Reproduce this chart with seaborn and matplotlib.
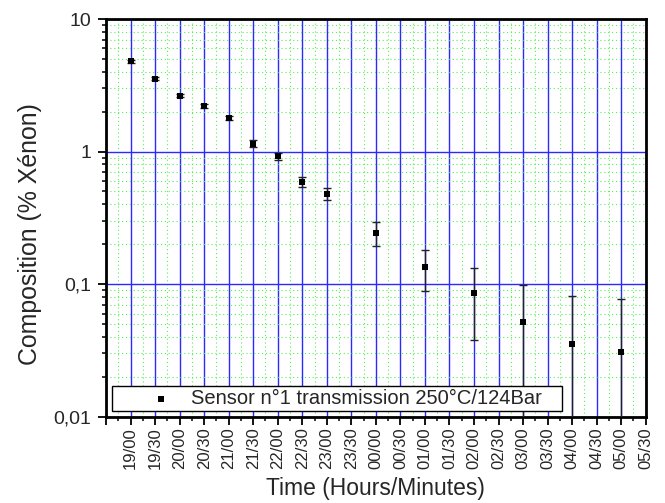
import numpy as np
import pandas as pd
import matplotlib
matplotlib.use("Agg")
import matplotlib.pyplot as plt
import seaborn as sns
from matplotlib.ticker import FixedLocator, FixedFormatter, NullFormatter

# ---- data ----
times = ["19/00", "19/30", "20/00", "20/30", "21/00", "21/30", "22/00", "22/30",
         "23/00", "00/00", "01/00", "02/00", "03/00", "04/00", "05/00"]
composition = [4.8, 3.55, 2.64, 2.21, 1.78, 1.15, 0.92, 0.59,
               0.48, 0.245, 0.135, 0.085, 0.052, 0.0355, 0.031]
error = [0.12, 0.09, 0.08, 0.07, 0.06, 0.07, 0.06, 0.05,
         0.05, 0.05, 0.047, 0.047, 0.046, 0.046, 0.046]
tick_labels = ["18/30", "19/00", "19/30", "20/00", "20/30", "21/00", "21/30", "22/00",
               "22/30", "23/00", "23/30", "00/00", "00/30", "01/00", "01/30", "02/00",
               "02/30", "03/00", "03/30", "04/00", "04/30", "05/00", "05/30"]
y_ticks = [0.01, 0.1, 1, 10]
y_tick_labels = ["0,01", "0,1", "1", "10"]
series_label = "Sensor n°1 transmission 250°C/124Bar"


def to_hours(s):
    h, m = s.split("/")
    return ((int(h) - 18) % 24) - 1 + int(m) / 60.0


df = pd.DataFrame({"t": [to_hours(s) for s in times],
                   "comp": composition, "err": error})
tick_pos = [to_hours(s) for s in tick_labels]

sns.set_style("white")
plt.rcParams['font.family'] = ['Liberation Sans', 'DejaVu Sans']

fig = plt.figure(figsize=(6.65, 5.03), dpi=100)
ax = fig.add_axes([0.1594, 0.1716, 0.9710 - 0.1594, 0.9622 - 0.1716])

ax.set_yscale("log")
ax.set_ylim(0.01, 10)
ax.set_xlim(tick_pos[0], tick_pos[-1])

# ticks & grid
minor_x = [p + 0.25 for p in tick_pos[:-1]]
ax.xaxis.set_major_locator(FixedLocator(tick_pos))
ax.xaxis.set_major_formatter(FixedFormatter(["" if s == "18/30" else s for s in tick_labels]))
ax.xaxis.set_minor_locator(FixedLocator(minor_x))
ax.yaxis.set_major_locator(FixedLocator(y_ticks))
ax.yaxis.set_major_formatter(FixedFormatter(y_tick_labels))
ax.yaxis.set_minor_locator(matplotlib.ticker.LogLocator(base=10, subs=np.arange(2, 10), numticks=20))
ax.yaxis.set_minor_formatter(NullFormatter())

ax.grid(which="minor", color="#55ee55", linestyle=(0, (1, 2.5)), linewidth=0.8, zorder=0)
ax.grid(which="major", color="#2a2aff", linestyle="-", linewidth=1.0, zorder=1)
ax.set_axisbelow(True)

ax.errorbar(df["t"], df["comp"], yerr=df["err"], fmt="none", ecolor="#222222",
            elinewidth=1.0, capsize=3.0, capthick=1.0, zorder=3)
sns.scatterplot(data=df, x="t", y="comp", marker="s", s=18, color="black",
                edgecolor="black", linewidth=0, ax=ax, zorder=4,
                label=series_label + "   ")

for sp in ax.spines.values():
    sp.set_visible(True)
    sp.set_color("black")
    sp.set_linewidth(2.0)

ax.tick_params(axis="both", which="major", direction="out", length=5.5, width=1.3,
               color="black", left=True, bottom=True, top=False, right=False)
ax.tick_params(axis="both", which="minor", direction="out", length=3.0, width=1.1,
               color="black", left=True, bottom=True, top=False, right=False)
ax.tick_params(axis="y", which="major", labelsize=14, pad=5)
ax.tick_params(axis="x", which="major", labelsize=12, pad=2, labelrotation=90)

ax.set_xlabel("Time (Hours/Minutes)", fontsize=16.5, labelpad=6)
ax.set_ylabel("Composition (% Xénon)", fontsize=17.9)
ax.yaxis.set_label_coords(-0.119, 0.459)

leg = ax.legend(loc="lower left", bbox_to_anchor=(0.0111, 0.0143), fontsize=14.5,
                frameon=True, fancybox=False, shadow=False, borderpad=0.15,
                handlelength=4.58, handletextpad=-0.81, borderaxespad=0.0,
                markerscale=1.0)
leg.get_frame().set_edgecolor("black")
leg.get_frame().set_linewidth(1.0)
leg.get_frame().set_facecolor("white")
leg.get_frame().set_alpha(1.0)

fig.savefig("out.png", dpi=100)
